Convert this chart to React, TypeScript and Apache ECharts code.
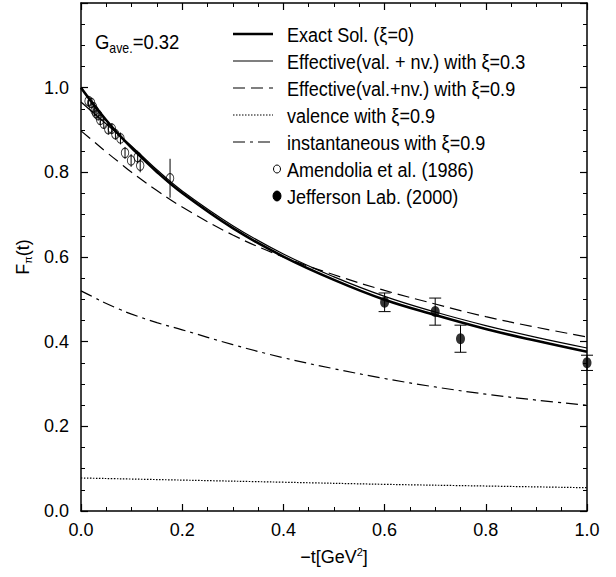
import React, { useEffect, useRef } from "react";
import * as echarts from "echarts";

// Theory curves
const tGrid = [0, 0.025, 0.05, 0.075, 0.1, 0.15, 0.2, 0.3, 0.4, 0.5, 0.6, 0.7, 0.8, 0.9, 1.0];
const exactSol = [1.0, 0.96, 0.923, 0.889, 0.858, 0.801, 0.751, 0.668, 0.601, 0.546, 0.499, 0.463, 0.43, 0.402, 0.376];
const eff03 = [0.966, 0.94, 0.914, 0.888, 0.862, 0.806, 0.756, 0.674, 0.607, 0.553, 0.507, 0.47, 0.438, 0.41, 0.385];
const eff09 = [0.898, 0.873, 0.848, 0.824, 0.8, 0.757, 0.718, 0.652, 0.6, 0.558, 0.521, 0.489, 0.459, 0.434, 0.411];
const inst09 = [0.52, 0.505, 0.49, 0.477, 0.465, 0.445, 0.428, 0.393, 0.362, 0.336, 0.313, 0.293, 0.276, 0.262, 0.25];
const valT = [0, 0.2, 0.4, 0.6, 0.8, 1.0];
const val09 = [0.078, 0.073, 0.068, 0.063, 0.059, 0.055];

// Data
const amT = [0.015, 0.02, 0.024, 0.027, 0.03, 0.034, 0.038, 0.045, 0.054, 0.061, 0.068, 0.078, 0.087, 0.099, 0.112, 0.117, 0.176];
const amF = [0.968, 0.964, 0.954, 0.946, 0.94, 0.935, 0.924, 0.915, 0.902, 0.903, 0.89, 0.88, 0.846, 0.828, 0.836, 0.816, 0.786];
const amErr = [0.012, 0.012, 0.012, 0.012, 0.012, 0.012, 0.012, 0.012, 0.013, 0.013, 0.013, 0.014, 0.014, 0.015, 0.015, 0.016, 0.046];
const jlT = [0.6, 0.7, 0.75, 1.0];
const jlF = [0.493, 0.471, 0.407, 0.35];
const jlErr = [0.022, 0.032, 0.032, 0.018];

const legendNames = [
  "Exact Sol. (ξ=0)",
  "Effective(val. + nv.) with ξ=0.3",
  "Effective(val.+nv.) with ξ=0.9",
  "valence with ξ=0.9",
  "instantaneous with ξ=0.9",
  "Amendolia et al. (1986)",
  "Jefferson Lab. (2000)",
];

const FONT = "'Liberation Sans', Arial, Helvetica, sans-serif";

function pairs(xs: number[], ys: number[]) {
  return xs.map((x, i) => [x, ys[i]]);
}

export default function App() {
  const ref = useRef<HTMLDivElement>(null);
  useEffect(() => {
    if (!ref.current) return;
    const chart = echarts.init(ref.current, undefined, { renderer: "svg" });
    const axisCommon = {
      type: "value",
      splitLine: { show: false },
      axisLine: { onZero: false, lineStyle: { color: "#000", width: 1.5 } },
      axisTick: { inside: true, length: 7, lineStyle: { color: "#000", width: 1.2 } },
      minorTick: { show: true, splitNumber: 4, length: 4, lineStyle: { color: "#000", width: 1 } },
    };
    const lineStyles = [
      { width: 2.6, type: "solid" },
      { width: 1.2, type: "solid" },
      { width: 1.2, type: [12, 6] },
      { width: 1.2, type: [1.5, 1.5] },
      { width: 1.2, type: [12, 5, 3, 5] },
    ];
    const curveData = [
      pairs(tGrid, exactSol),
      pairs(tGrid, eff03),
      pairs(tGrid, eff09),
      pairs(valT, val09),
      pairs(tGrid, inst09),
    ];
    const errRender = (caps: boolean) => (params: any, api: any) => {
      const x = api.value(0);
      const y = api.value(1);
      const e = api.value(2);
      const top = api.coord([x, y + e]);
      const bot = api.coord([x, y - e]);
      const children: any[] = [
        { type: "line", shape: { x1: top[0], y1: top[1], x2: bot[0], y2: bot[1] }, style: { stroke: "#000", lineWidth: 1 } },
      ];
      if (caps) {
        children.push({ type: "line", shape: { x1: top[0] - 6, y1: top[1], x2: top[0] + 6, y2: top[1] }, style: { stroke: "#000", lineWidth: 1 } });
        children.push({ type: "line", shape: { x1: bot[0] - 6, y1: bot[1], x2: bot[0] + 6, y2: bot[1] }, style: { stroke: "#000", lineWidth: 1 } });
      }
      return { type: "group", children };
    };

    const legendRowsY = [34, 61, 88, 115, 142, 169, 196];
    const graphics: any[] = [];
    lineStyles.forEach((ls, i) => {
      graphics.push({
        type: "line",
        shape: { x1: 233, y1: legendRowsY[i], x2: 273, y2: legendRowsY[i] },
        style: { stroke: "#000", lineWidth: ls.width, lineDash: Array.isArray(ls.type) ? ls.type : null },
      });
    });
    graphics.push({ type: "ellipse", shape: { cx: 277, cy: legendRowsY[5], rx: 3.5, ry: 4 }, style: { fill: "none", stroke: "#000", lineWidth: 1 } });
    graphics.push({ type: "ellipse", shape: { cx: 277, cy: legendRowsY[6], rx: 4, ry: 5 }, style: { fill: "#000", stroke: "#000", lineWidth: 1 } });
    legendNames.forEach((n, i) => {
      graphics.push({
        type: "text",
        x: 287,
        y: legendRowsY[i],
        scaleX: 0.86,
        style: { text: n, fill: "#000", font: `21px ${FONT}`, verticalAlign: "middle" },
      });
    });
    graphics.push({
      type: "text",
      x: 95,
      y: 42,
      scaleX: 0.88,
      style: {
        text: "G{sub|ave.}=0.32",
        fill: "#000",
        fontSize: 21,
        fontFamily: FONT,
        verticalAlign: "middle",
        rich: {
          sub: { fontSize: 14, fontFamily: FONT, fill: "#000", padding: [12, 0, 0, 0] },
        },
      },
    });

    chart.setOption({
      animation: false,
      grid: { left: 81, right: 29, top: 3, bottom: 66, containLabel: false },
      xAxis: [
        {
          ...axisCommon,
          position: "bottom",
          min: 0,
          max: 1,
          interval: 0.2,
          axisLabel: { color: "#000", fontSize: 18, fontFamily: FONT, margin: 10, formatter: (v: number) => v.toFixed(1) },
          name: "−t[GeV{sup|2}]",
          nameLocation: "middle",
          nameGap: 35,
          nameTextStyle: {
            color: "#000",
            fontSize: 18,
            fontFamily: FONT,
            rich: { sup: { fontSize: 11, fontFamily: FONT, color: "#000", padding: [0, 0, 10, 0] } },
          },
        },
        {
          ...axisCommon,
          position: "top",
          min: 0,
          max: 1,
          interval: 0.2,
          axisLabel: { show: false },
        },
      ],
      yAxis: [
        {
          ...axisCommon,
          position: "left",
          min: 0,
          max: 1.2,
          interval: 0.2,
          axisLabel: {
            color: "#000",
            fontSize: 18,
            fontFamily: FONT,
            margin: 12,
            formatter: (v: number) => (v > 1.1 ? "" : v.toFixed(1)),
          },
          name: "F{sub|π}(t)",
          nameLocation: "middle",
          nameGap: 41,
          nameTextStyle: {
            color: "#000",
            fontSize: 18,
            fontFamily: FONT,
            rich: { sub: { fontSize: 11, fontFamily: FONT, color: "#000", padding: [9, 0, 0, 0] } },
          },
        },
        {
          ...axisCommon,
          position: "right",
          min: 0,
          max: 1.2,
          interval: 0.2,
          axisLabel: { show: false },
        },
      ],
      graphic: graphics,
      series: [
        ...curveData.map((d, i) => ({
          type: "line",
          name: legendNames[i],
          data: d,
          smooth: 0.4,
          showSymbol: false,
          symbol: "none",
          lineStyle: { color: "#000", width: lineStyles[i].width, type: lineStyles[i].type },
          z: 3,
        })),
        {
          type: "custom",
          name: "amErr",
          renderItem: errRender(false),
          data: amT.map((t, i) => [t, amF[i], amErr[i]]),
          encode: { x: 0, y: 1 },
          z: 4,
        },
        {
          type: "custom",
          name: "jlErr",
          renderItem: errRender(true),
          data: jlT.map((t, i) => [t, jlF[i], jlErr[i]]),
          encode: { x: 0, y: 1 },
          z: 4,
        },
        {
          type: "scatter",
          name: legendNames[5],
          data: pairs(amT, amF),
          symbol: "circle",
          symbolSize: [7.5, 9.5],
          itemStyle: { color: "rgba(0,0,0,0)", borderColor: "#000", borderWidth: 1 },
          z: 5,
        },
        {
          type: "scatter",
          name: legendNames[6],
          data: pairs(jlT, jlF),
          symbol: "circle",
          symbolSize: [9, 11],
          itemStyle: { color: "#000", borderColor: "#000", borderWidth: 0 },
          z: 5,
        },
      ],
    });
    return () => chart.dispose();
  }, []);
  return (
    <div
      ref={ref}
      style={{ position: "fixed", left: 0, top: 0, width: 616, height: 577, background: "#fff" }}
    />
  );
}
